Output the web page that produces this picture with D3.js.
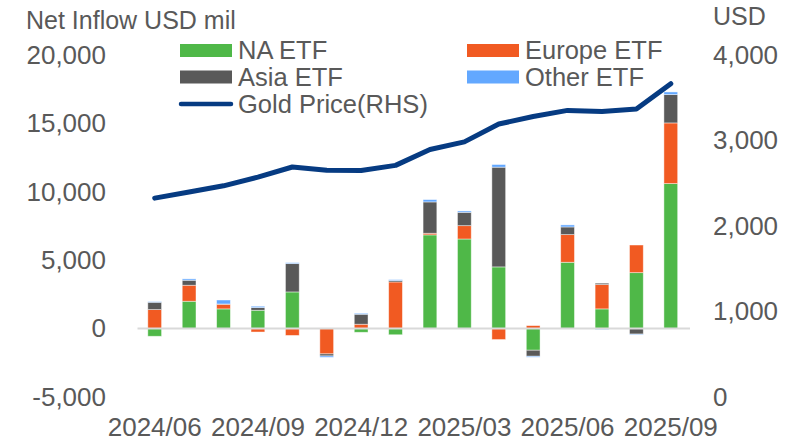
<!DOCTYPE html>
<html>
<head>
<meta charset="utf-8">
<script src="https://cdn.jsdelivr.net/npm/d3@7"></script>
<style>
  html, body { margin: 0; padding: 0; background: #fff; }
  svg { display: block; font-family: "Liberation Sans", Arial, sans-serif; }
</style>
</head>
<body>
<svg id="chart" width="808" height="445"></svg>
<script>
const months = ["2024/06","2024/07","2024/08","2024/09","2024/10","2024/11","2024/12","2025/01","2025/02","2025/03","2025/04","2025/05","2025/06","2025/07","2025/08","2025/09"];
const naETF     = [-560, 2000, 1440, 1340, 2680,    40, -270, -450, 6850, 6550, 4510, -1580, 4850, 1440, 4090, 10600];
const europeETF = [1390, 1170,  340, -250, -500, -1850,  320, 3410,  120,  975, -800,   220, 2020, 1780, 2020,  4435];
const asiaETF   = [ 535,  365,   20,  195, 2070,  -150,  730,  100, 2290,  975, 7290,  -440,  560,  100, -400,  2070];
const otherETF  = [  50,  100,  290,  100,   70,  -100,   70,   70,  170,  100,  195,   -70,  150,  -70,  -50,   195];
const goldPrice = [2326, 2398, 2470, 2571, 2690, 2651, 2648, 2709, 2895, 2984, 3193, 3280, 3352, 3340, 3368, 3665];
const leftTicks  = [-5000, 0, 5000, 10000, 15000, 20000];
const rightTicks = [0, 1000, 2000, 3000, 4000];
const xTickLabels = ["2024/06","2024/09","2024/12","2025/03","2025/06","2025/09"];

const seriesNames = ["NA ETF", "Europe ETF", "Asia ETF", "Other ETF"];
const seriesValues = [naETF, europeETF, asiaETF, otherETF];
const colors = {"NA ETF": "#4fb848", "Europe ETF": "#f15a22", "Asia ETF": "#595959", "Other ETF": "#63a8ff"};
const lineColor = "#063b82";
const textColor = "#595959";

const svg = d3.select("#chart");

const x = d3.scaleBand().domain(months).range([137.5, 688]).paddingInner(0.6).paddingOuter(0.3);
const yL = d3.scaleLinear().domain([-5000, 20000]).range([397, 55]);
const yR = d3.scaleLinear().domain([0, 4000]).range([397, 55]);

const fmt = d => d3.format(",")(d).replace("\u2212", "-");

const rows = months.map((m, i) => {
  const r = {month: m};
  seriesNames.forEach((s, k) => r[s] = seriesValues[k][i]);
  return r;
});
const stacked = d3.stack().keys(seriesNames).offset(d3.stackOffsetDiverging)(rows);

// bars
svg.append("g").selectAll("g").data(stacked).join("g")
  .attr("fill", d => colors[d.key])
  .selectAll("rect").data(d => d).join("rect")
  .attr("x", d => x(d.data.month))
  .attr("width", x.bandwidth())
  .attr("y", d => yL(Math.max(d[0], d[1])))
  .attr("height", d => Math.abs(yL(d[0]) - yL(d[1])))
  .attr("stroke", "rgba(255,255,255,0.55)")
  .attr("stroke-width", 0.8);

// zero line
svg.append("line")
  .attr("x1", 137.5).attr("x2", 690)
  .attr("y1", yL(0)).attr("y2", yL(0))
  .attr("stroke", "#d9d9d9").attr("stroke-width", 2);

// gold line
const line = d3.line().x((d, i) => x(months[i]) + x.bandwidth() / 2).y(d => yR(d));
svg.append("path").datum(goldPrice)
  .attr("d", line)
  .attr("fill", "none")
  .attr("stroke", lineColor)
  .attr("stroke-width", 5)
  .attr("stroke-linejoin", "round")
  .attr("stroke-linecap", "round");

// left axis
const axL = d3.axisLeft(yL).tickValues(leftTicks).tickSize(0).tickPadding(0).tickFormat(fmt);
const gL = svg.append("g").attr("transform", "translate(106,0)").call(axL);
gL.select(".domain").remove();
gL.selectAll("text").attr("fill", textColor).attr("font-size", 26).attr("font-family", "Liberation Sans, Arial, sans-serif");

// right axis
const axR = d3.axisRight(yR).tickValues(rightTicks).tickSize(0).tickPadding(0).tickFormat(fmt);
const gR = svg.append("g").attr("transform", "translate(713,0)").call(axR);
gR.select(".domain").remove();
gR.selectAll("text").attr("fill", textColor).attr("font-size", 26).attr("font-family", "Liberation Sans, Arial, sans-serif");

// x axis
const axX = d3.axisBottom(x).tickValues(xTickLabels).tickSize(0).tickPadding(0);
const gX = svg.append("g").attr("transform", "translate(0,418)").call(axX);
gX.select(".domain").remove();
gX.selectAll("text").attr("fill", textColor).attr("font-size", 26).attr("dy", "0.71em").attr("font-family", "Liberation Sans, Arial, sans-serif");

// titles
svg.append("text").attr("x", 26).attr("y", 29).attr("fill", textColor).attr("font-size", 25).text("Net Inflow USD mil");
svg.append("text").attr("x", 713).attr("y", 25).attr("fill", textColor).attr("font-size", 25).text("USD");

// legend
const legendItems = [
  {name: "NA ETF", col: 0, row: 0},
  {name: "Europe ETF", col: 1, row: 0},
  {name: "Asia ETF", col: 0, row: 1},
  {name: "Other ETF", col: 1, row: 1}
];
const colX = [180, 467];
const rowY = [50.5, 77];
const lg = svg.append("g");
legendItems.forEach(it => {
  lg.append("rect").attr("x", colX[it.col]).attr("y", rowY[it.row] - 6.5).attr("width", 52).attr("height", 13).attr("fill", colors[it.name]);
  lg.append("text").attr("x", colX[it.col] + 58).attr("y", rowY[it.row]).attr("dy", "0.35em")
    .attr("fill", textColor).attr("font-size", 25.5).text(it.name);
});
lg.append("line").attr("x1", 181).attr("x2", 231).attr("y1", 104).attr("y2", 104)
  .attr("stroke", lineColor).attr("stroke-width", 4.5).attr("stroke-linecap", "round");
lg.append("text").attr("x", 238).attr("y", 104).attr("dy", "0.35em").attr("fill", textColor).attr("font-size", 25.5).text("Gold Price(RHS)");
</script>
</body>
</html>
